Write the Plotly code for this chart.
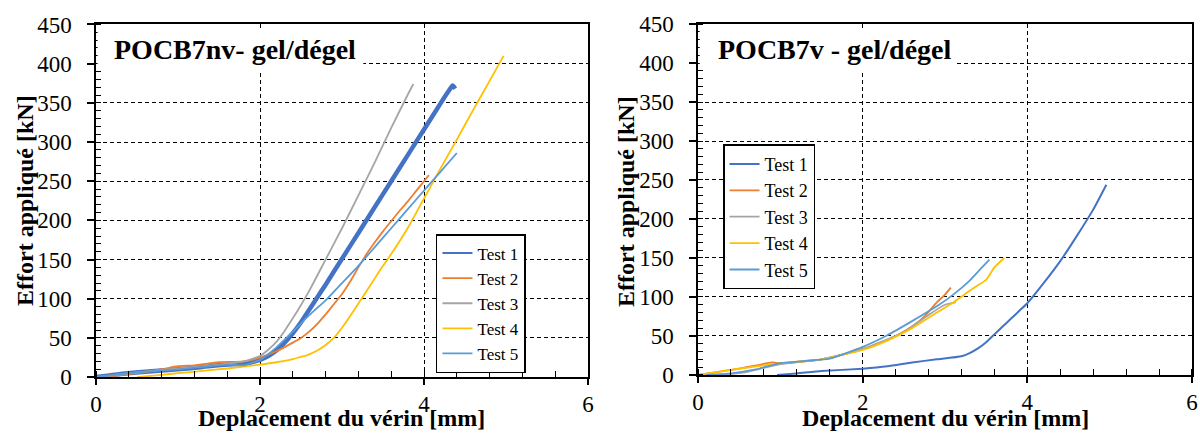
import plotly.graph_objects as go

# ---------------- data ----------------
series_names = ["Test 1", "Test 2", "Test 3", "Test 4", "Test 5"]
panel_titles = ["POCB7nv- gel/dégel", "POCB7v - gel/dégel"]
x_title = "Deplacement du vérin [mm]"
y_title = "Effort appliqué [kN]"
x_ticks = [0, 2, 4, 6]
y_ticks = [0, 50, 100, 150, 200, 250, 300, 350, 400, 450]

# Left panel : POCB7nv
nv_t1_x = [0, 0.3, 0.6, 1.0, 1.3, 1.6, 1.8, 2.0, 2.1, 2.2, 2.3, 2.4, 2.5, 2.6, 2.7, 2.8,
           3.0, 3.2, 3.4, 3.6, 3.8, 4.0, 4.2, 4.3, 4.35, 4.38]
nv_t1_y = [0, 4, 7, 10, 13, 16, 17, 22, 27, 34, 44, 56, 70, 86, 102, 118,
           151, 184, 217, 250, 283, 316, 349, 365, 372, 368]
nv_t2_x = [0.1, 0.4, 0.8, 1.0, 1.2, 1.5, 1.8, 2.0, 2.2, 2.4, 2.5, 2.6, 2.7, 2.8, 2.9, 3.0,
           3.1, 3.2, 3.3, 3.4, 3.5, 3.6, 3.7, 3.8, 3.9, 4.0, 4.06]
nv_t2_y = [0, 4, 10, 14, 15, 19, 20, 25, 33, 44, 50, 58, 68, 80, 93, 106,
           122, 140, 157, 172, 186, 199, 212, 224, 237, 250, 258]
nv_t3_x = [0, 0.5, 1.0, 1.5, 1.8, 2.0, 2.1, 2.2, 2.3, 2.4, 2.5, 2.6, 2.8, 3.0, 3.2, 3.4,
           3.6, 3.8, 3.87]
nv_t3_y = [0, 6, 11, 16, 20, 27, 35, 45, 59, 75, 92, 110, 150, 190, 232, 274,
           318, 360, 374]
nv_t4_x = [0.5, 0.8, 1.0, 1.3, 1.6, 2.0, 2.2, 2.4, 2.5, 2.55, 2.6, 2.7, 2.8, 2.9, 3.0,
           3.1, 3.2, 3.3, 3.4, 3.5, 3.6, 3.8, 4.0, 4.2, 4.4, 4.6, 4.8, 4.97]
nv_t4_y = [0, 3, 5, 8, 11, 16, 19, 23, 26, 27, 29, 34, 41, 50, 63,
           78, 94, 110, 126, 142, 157, 190, 228, 266, 303, 341, 378, 410]
nv_t5_x = [0, 0.3, 0.6, 1.0, 1.3, 1.6, 1.8, 2.0, 2.2, 2.4, 2.6, 2.8, 3.0, 3.2, 3.4, 3.6,
           3.8, 4.0, 4.2, 4.4]
nv_t5_y = [0, 4, 7, 10, 13, 16, 15, 22, 38, 58, 79, 98, 120, 142, 166, 190,
           214, 238, 262, 286]

# Right panel : POCB7v
v_t1_x = [0.96, 1.2, 1.5, 2.0, 2.3, 2.6, 2.9, 3.2, 3.3, 3.4, 3.5, 3.6, 3.7, 3.8, 3.9, 4.0,
          4.2, 4.4, 4.6, 4.8, 4.96]
v_t1_y = [0, 2, 5, 8, 11, 16, 20, 24, 28, 34, 42, 52, 62, 72, 82, 92,
          118, 146, 178, 212, 244]
v_t2_x = [0, 0.5, 0.9, 1.0, 1.5, 2.0, 2.4, 2.6, 2.75, 2.9, 3.0, 3.07]
v_t2_y = [0, 8, 16, 15, 20, 33, 50, 62, 75, 93, 103, 112]
v_t3_x = [0.3, 0.6, 1.0, 1.5, 2.0, 2.5, 2.8, 3.0, 3.13]
v_t3_y = [0, 4, 14, 20, 33, 55, 77, 90, 93]
v_t4_x = [0, 0.5, 1.0, 1.5, 2.0, 2.3, 2.6, 2.9, 3.1, 3.3, 3.4, 3.5, 3.6, 3.72]
v_t4_y = [0, 8, 15, 20, 32, 44, 60, 80, 93, 108, 115, 122, 138, 150]
v_t5_x = [0.1, 0.4, 0.7, 1.0, 1.3, 1.6, 2.0, 2.3, 2.6, 2.9, 3.1, 3.3, 3.45, 3.54]
v_t5_y = [0, 2, 7, 15, 18, 21, 36, 51, 69, 88, 103, 121, 138, 148]

# ---------------- styling ----------------
colors = ["#4472C4", "#ED7D31", "#A5A5A5", "#FFC000", "#5B9BD5"]
FONT = "Liberation Serif"

fig = go.Figure()

left_data = [(nv_t1_x, nv_t1_y), (nv_t2_x, nv_t2_y), (nv_t3_x, nv_t3_y),
             (nv_t4_x, nv_t4_y), (nv_t5_x, nv_t5_y)]
right_data = [(v_t1_x, v_t1_y), (v_t2_x, v_t2_y), (v_t3_x, v_t3_y),
              (v_t4_x, v_t4_y), (v_t5_x, v_t5_y)]

for i, (xs, ys) in enumerate(left_data):
    thick = (i == 0)
    fig.add_trace(go.Scatter(x=xs, y=ys, mode="lines", name=series_names[i],
                             line=dict(color=colors[i], width=4.5 if thick else 1.8, shape="spline",
                                       smoothing=0.5),
                             xaxis="x", yaxis="y", legend="legend",
                             showlegend=not thick, legendrank=i + 1))
    if thick:
        fig.add_trace(go.Scatter(x=[None], y=[None], mode="lines", name=series_names[i],
                                 line=dict(color=colors[i], width=2),
                                 xaxis="x", yaxis="y", legend="legend", legendrank=i + 1))

for i, (xs, ys) in enumerate(right_data):
    fig.add_trace(go.Scatter(x=xs, y=ys, mode="lines", name=series_names[i],
                             line=dict(color=colors[i], width=2 if i == 0 else 1.8, shape="spline",
                                       smoothing=0.5),
                             xaxis="x2", yaxis="y2", legend="legend2", legendrank=i + 1))

def xax(domain, anchor):
    return dict(domain=domain, anchor=anchor, range=[0, 6], tickvals=x_ticks,
                automargin=False,
                showgrid=True, gridcolor="black", gridwidth=1, griddash="4px,3px",
                showline=True, linecolor="black", linewidth=1.5, mirror=True,
                ticks="outside", ticklen=6, tickwidth=1.5, tickcolor="black",
                minor=dict(dtick=0.4, tick0=0, ticks="inside", ticklen=6, tickwidth=1.2,
                           tickcolor="black", showgrid=False),
                tickfont=dict(family=FONT, size=23, color="black"), zeroline=False)

def yax(domain, anchor):
    return dict(domain=domain, anchor=anchor, range=[0, 450], tickvals=y_ticks,
                automargin=False,
                showgrid=True, gridcolor="black", gridwidth=1, griddash="4px,3px",
                showline=True, linecolor="black", linewidth=1.5, mirror=True,
                ticks="outside", ticklen=7, tickwidth=1.5, tickcolor="black",
                ticklabelstandoff=11,
                minor=dict(dtick=10, tick0=0, ticks="inside", ticklen=5, tickwidth=1.2,
                           tickcolor="black", showgrid=False),
                tickfont=dict(family=FONT, size=23, color="black"), zeroline=False)

legend_style = dict(bgcolor="white", bordercolor="black", borderwidth=1.5,
                    xanchor="left", yanchor="top", itemwidth=30,
                    tracegroupgap=0, traceorder="normal",
                    entrywidth=88, entrywidthmode="pixels")

fig.update_layout(
    template="none",
    font=dict(family=FONT, size=20, color="black"),
    width=1200, height=437,
    margin=dict(l=0, r=0, t=0, b=0, autoexpand=False),
    paper_bgcolor="white", plot_bgcolor="white",
    xaxis=xax([0.080, 0.490], "y"),
    yaxis=yax([0.137, 0.944], "x"),
    xaxis2=xax([0.5817, 0.9933], "y2"),
    yaxis2=yax([0.142, 0.945], "x2"),
    legend=dict(x=0.3633, y=0.4645, font=dict(family=FONT, size=17, color="black"),
                **legend_style),
    legend2=dict(x=0.6025, y=0.670, font=dict(family=FONT, size=18, color="black"),
                 **legend_style),
)

# white boxes behind panel titles (hide part of the grid)
fig.add_shape(type="rect", xref="x", yref="y", x0=0.02, x1=3.26, y0=391, y1=443,
              fillcolor="white", line=dict(width=0), layer="above")
fig.add_shape(type="rect", xref="x2", yref="y2", x0=0.02, x1=3.14, y0=391, y1=443,
              fillcolor="white", line=dict(width=0), layer="above")

# panel titles
fig.add_annotation(text="<b>" + panel_titles[0] + "</b>", xref="paper", yref="paper",
                   x=112 / 1200, y=1 - 50 / 437, xanchor="left", yanchor="middle", showarrow=False,
                   font=dict(family=FONT, size=28, color="black"))
fig.add_annotation(text="<b>" + panel_titles[1] + "</b>", xref="paper", yref="paper",
                   x=716 / 1200, y=1 - 50 / 437, xanchor="left", yanchor="middle", showarrow=False,
                   font=dict(family=FONT, size=28, color="black"))

# axis titles
for cx in [(96 + 588) / 2 / 1200, (698 + 1192) / 2 / 1200]:
    fig.add_annotation(text="<b>" + x_title + "</b>", xref="paper", yref="paper",
                       x=cx, y=1 - 418 / 437, xanchor="center", yanchor="middle", showarrow=False,
                       font=dict(family=FONT, size=24, color="black"))
for cx in [25 / 1200, 626 / 1200]:
    fig.add_annotation(text="<b>" + y_title + "</b>", xref="paper", yref="paper",
                       x=cx, y=1 - 201 / 437, xanchor="center", yanchor="middle", showarrow=False,
                       textangle=-90, font=dict(family=FONT, size=24, color="black"))

fig.write_html("out.html", config={"displayModeBar": False},
               post_script="document.body.style.margin='0px';")
